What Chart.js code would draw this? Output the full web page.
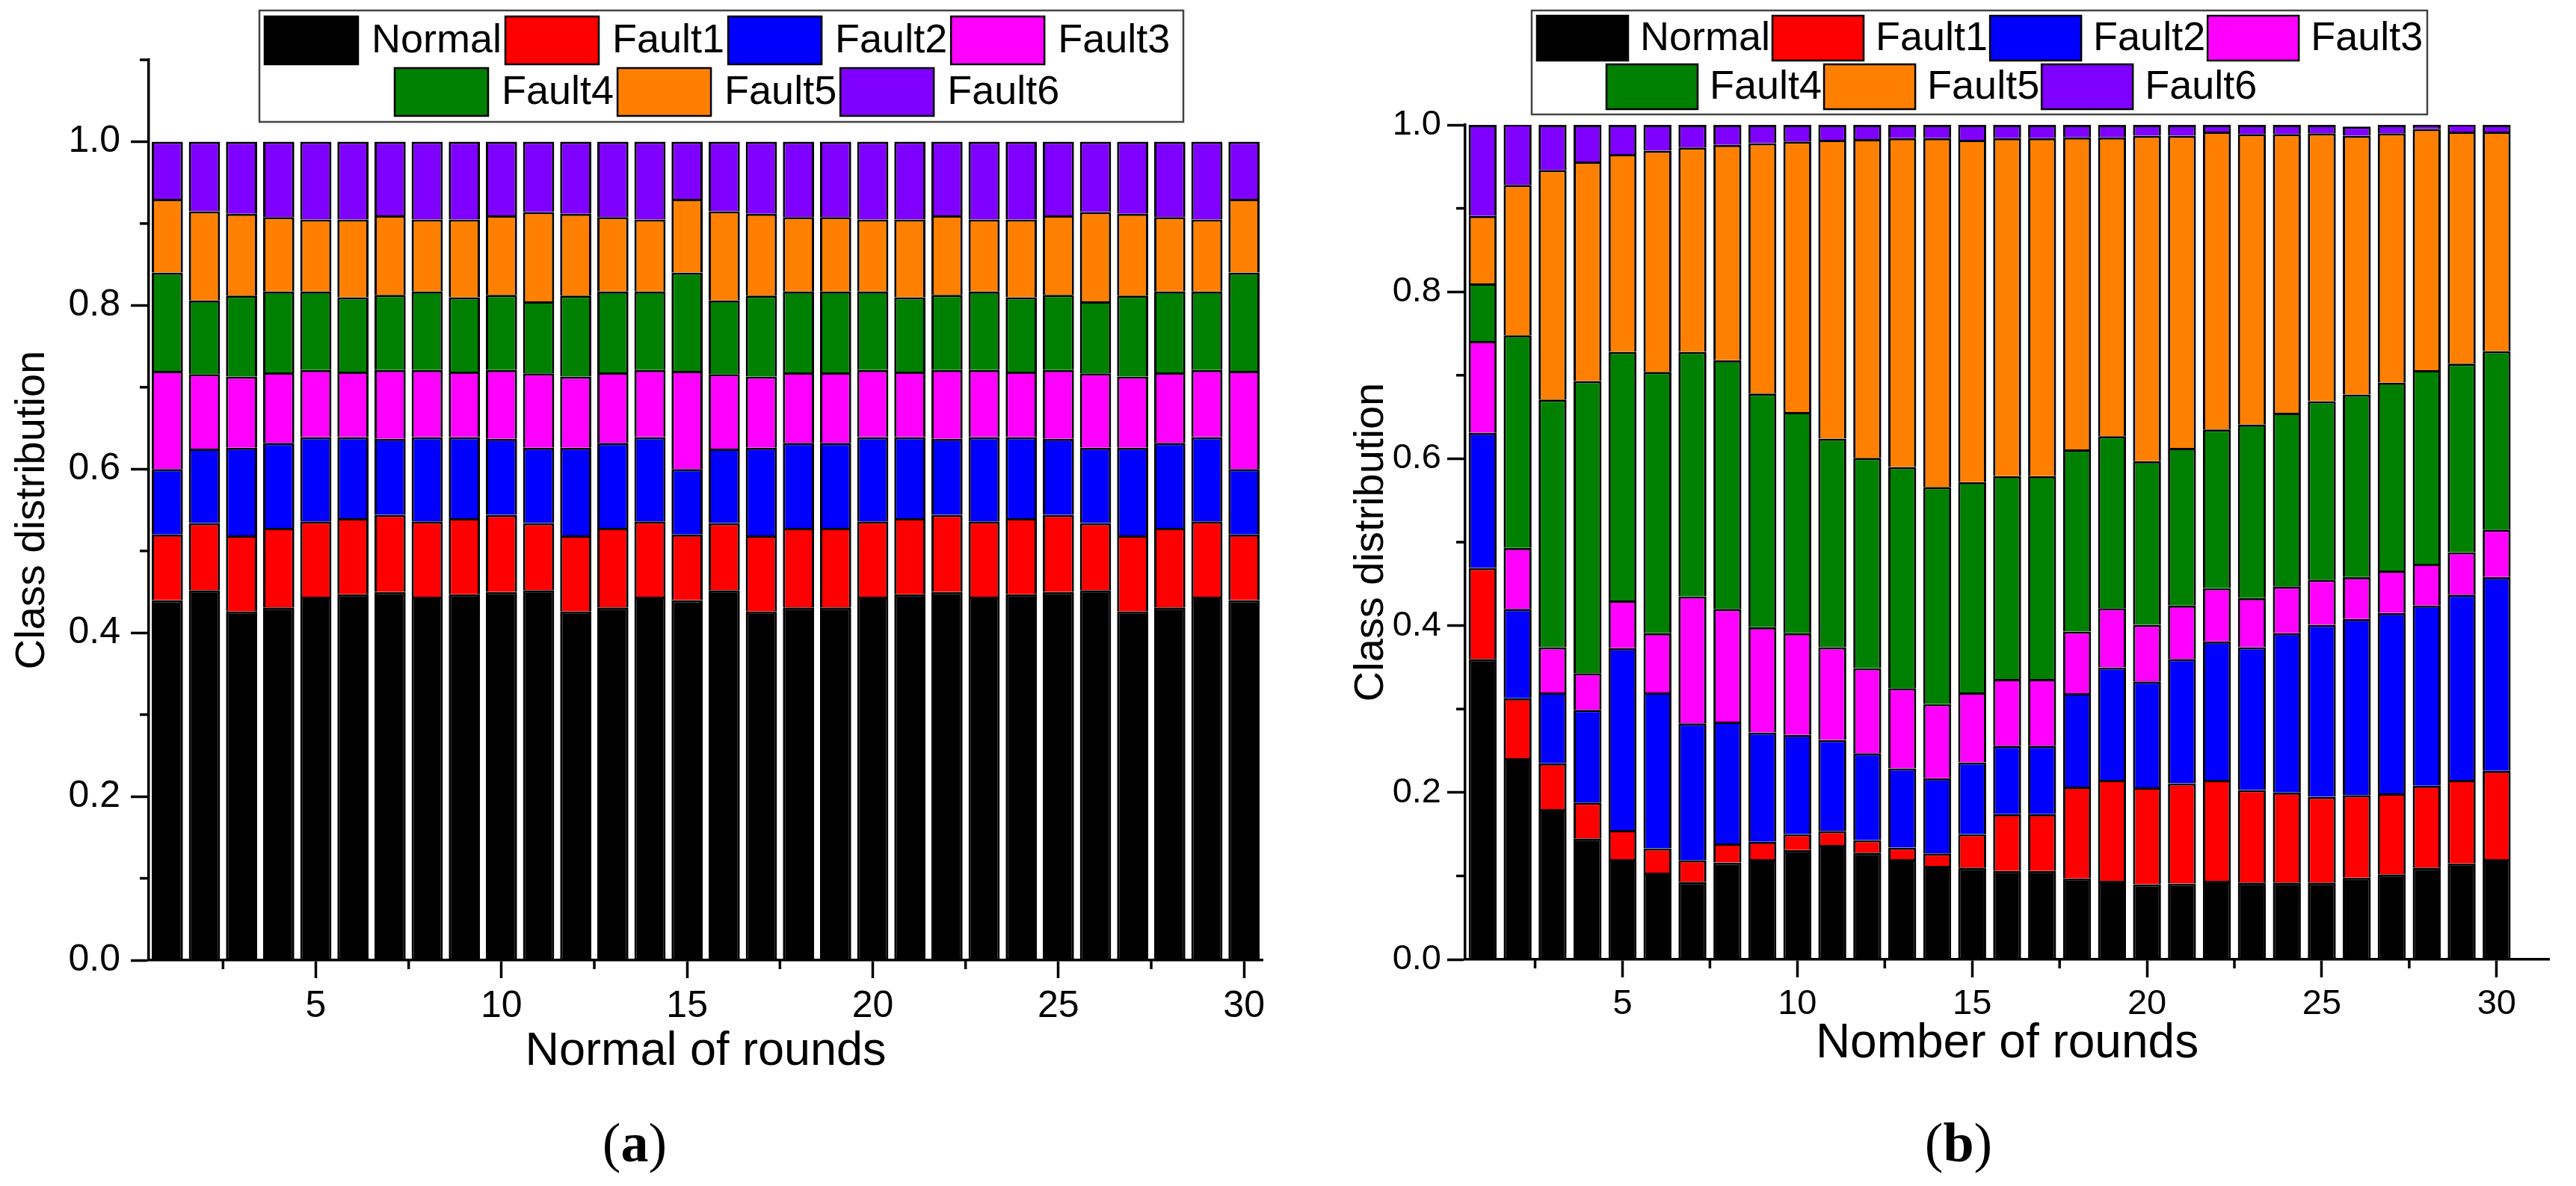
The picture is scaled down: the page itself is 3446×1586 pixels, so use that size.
<!DOCTYPE html>
<html>
<head>
<meta charset="utf-8">
<script src="https://cdn.jsdelivr.net/npm/chart.js@4.4.0/dist/chart.umd.min.js"></script>
<style>
html,body{margin:0;padding:0;background:#fff;}
body{width:3446px;height:1586px;position:relative;overflow:hidden;}
#wa{position:absolute;left:0;top:0;width:1740px;height:1460px;}
#wb{position:absolute;left:1770px;top:0;width:1676px;height:1460px;}
canvas{display:block;}
.cap{position:absolute;top:1491px;width:400px;text-align:center;font-family:'Liberation Serif','DejaVu Serif',serif;font-size:74px;line-height:74px;color:#000;}
</style>
</head>
<body>
<div id="wa"><canvas id="ca" width="1740" height="1460" style="width:1740px;height:1460px"></canvas></div>
<div id="wb"><canvas id="cb" width="1676" height="1460" style="width:1676px;height:1460px"></canvas></div>
<div class="cap" style="left:649px">(<b>a</b>)</div>
<div class="cap" style="left:2420px">(<b>b</b>)</div>
<script>
// ---------- data ----------
const rounds = [1,2,3,4,5,6,7,8,9,10,11,12,13,14,15,16,17,18,19,20,21,22,23,24,25,26,27,28,29,30];
const xMajorTicks = [5,10,15,20,25,30];
const xMinorTicks = [2.5,7.5,12.5,17.5,22.5,27.5];
const yMajorTicks = [0,0.2,0.4,0.6,0.8,1.0];
const yMinorTicksA = [0.1,0.3,0.5,0.7,0.9,1.1];
const yMinorTicksB = [0.1,0.3,0.5,0.7,0.9];
const classNames = ['Normal','Fault1','Fault2','Fault3','Fault4','Fault5','Fault6'];
const classColors = ['#000000','#ff0000','#0000ff','#ff00ff','#008000','#ff8000','#8000ff'];

// (a) Normal of rounds
const aNormal = [0.440,0.452,0.426,0.431,0.444,0.447,0.450,0.444,0.447,0.450,0.452,0.426,0.431,0.444,0.440,0.452,0.426,0.431,0.431,0.444,0.447,0.450,0.444,0.447,0.450,0.452,0.426,0.431,0.444,0.440];
const aFault1 = [0.080,0.082,0.093,0.097,0.092,0.093,0.094,0.092,0.093,0.094,0.082,0.093,0.097,0.092,0.080,0.082,0.093,0.097,0.097,0.092,0.093,0.094,0.092,0.093,0.094,0.082,0.093,0.097,0.092,0.080];
const aFault2 = [0.080,0.091,0.107,0.104,0.103,0.099,0.093,0.103,0.099,0.093,0.092,0.107,0.104,0.103,0.080,0.091,0.107,0.104,0.104,0.103,0.099,0.093,0.103,0.099,0.093,0.092,0.107,0.104,0.103,0.080];
const aFault3 = [0.120,0.091,0.087,0.086,0.082,0.080,0.084,0.082,0.080,0.084,0.091,0.087,0.086,0.082,0.120,0.091,0.087,0.086,0.086,0.082,0.080,0.084,0.082,0.080,0.084,0.091,0.087,0.086,0.082,0.120];
const aFault4 = [0.120,0.090,0.099,0.099,0.096,0.091,0.092,0.096,0.091,0.092,0.088,0.099,0.099,0.096,0.120,0.090,0.099,0.099,0.099,0.096,0.091,0.092,0.096,0.091,0.092,0.088,0.099,0.099,0.096,0.120];
const aFault5 = [0.090,0.109,0.100,0.091,0.088,0.095,0.097,0.088,0.095,0.097,0.109,0.100,0.091,0.088,0.090,0.109,0.100,0.091,0.091,0.088,0.095,0.097,0.088,0.095,0.097,0.109,0.100,0.091,0.088,0.090];
const aFault6 = [0.070,0.085,0.088,0.092,0.095,0.095,0.090,0.095,0.095,0.090,0.086,0.088,0.092,0.095,0.070,0.085,0.088,0.092,0.092,0.095,0.095,0.090,0.095,0.095,0.090,0.086,0.088,0.092,0.095,0.070];

// (b) Nomber of rounds
const bNormal = [0.360,0.241,0.180,0.145,0.120,0.104,0.093,0.116,0.120,0.131,0.137,0.128,0.120,0.112,0.110,0.106,0.106,0.097,0.094,0.090,0.091,0.094,0.092,0.092,0.092,0.098,0.102,0.110,0.115,0.120];
const bFault1 = [0.109,0.072,0.055,0.043,0.035,0.029,0.026,0.023,0.021,0.019,0.017,0.015,0.014,0.015,0.040,0.068,0.068,0.110,0.121,0.116,0.120,0.121,0.111,0.108,0.103,0.099,0.097,0.098,0.100,0.106];
const bFault2 = [0.162,0.107,0.085,0.111,0.218,0.187,0.164,0.146,0.131,0.119,0.109,0.104,0.095,0.090,0.086,0.082,0.082,0.112,0.135,0.127,0.149,0.166,0.171,0.191,0.206,0.211,0.216,0.216,0.222,0.232];
const bFault3 = [0.110,0.073,0.054,0.044,0.057,0.071,0.152,0.135,0.126,0.122,0.111,0.102,0.096,0.089,0.084,0.080,0.080,0.074,0.071,0.068,0.064,0.064,0.059,0.056,0.054,0.050,0.051,0.050,0.051,0.057];
const bFault4 = [0.069,0.255,0.297,0.350,0.298,0.313,0.293,0.298,0.280,0.265,0.250,0.252,0.265,0.260,0.252,0.243,0.243,0.218,0.206,0.196,0.189,0.190,0.208,0.208,0.214,0.219,0.225,0.232,0.226,0.214];
const bFault5 = [0.081,0.180,0.275,0.263,0.237,0.265,0.245,0.258,0.300,0.324,0.358,0.382,0.394,0.418,0.410,0.405,0.405,0.374,0.358,0.390,0.374,0.357,0.348,0.334,0.321,0.310,0.299,0.289,0.278,0.263];
const bFault6 = [0.109,0.073,0.054,0.044,0.035,0.031,0.027,0.024,0.022,0.020,0.018,0.017,0.016,0.016,0.018,0.016,0.016,0.015,0.015,0.013,0.013,0.008,0.011,0.011,0.010,0.011,0.010,0.005,0.009,0.008];

// ---------- helpers ----------
Chart.defaults.font.family = "'Liberation Sans', Arial, sans-serif";
Chart.defaults.color = '#000';

const minorTicks = {
  id: 'minorTicks',
  afterDraw(chart, args, o) {
    const ctx = chart.ctx;
    ctx.save();
    ctx.strokeStyle = '#000';
    ctx.lineWidth = o.width;
    ctx.lineCap = 'butt';
    const xs = chart.scales.x, ys = chart.scales.y;
    o.xValues.forEach(v => {
      const px = xs.getPixelForValue(v);
      ctx.beginPath();
      ctx.moveTo(px, xs.top);
      ctx.lineTo(px, xs.top + o.length);
      ctx.stroke();
    });
    o.yValues.forEach(v => {
      const py = ys.getPixelForValue(v);
      ctx.beginPath();
      ctx.moveTo(ys.right, py);
      ctx.lineTo(ys.right - o.length, py);
      ctx.stroke();
    });
    ctx.restore();
  }
};

const boxLegend = {
  id: 'boxLegend',
  afterDraw(chart, args, o) {
    const ctx = chart.ctx;
    ctx.save();
    ctx.lineWidth = o.frameWidth;
    ctx.strokeStyle = o.frameColor;
    ctx.strokeRect(o.box.x, o.box.y, o.box.w, o.box.h);
    ctx.font = o.fontSize + "px 'Liberation Sans', Arial, sans-serif";
    ctx.textBaseline = 'middle';
    ctx.textAlign = 'left';
    o.rows.forEach(row => {
      let x = row.x;
      row.items.forEach(i => {
        const ds = chart.data.datasets[i];
        ctx.fillStyle = ds.backgroundColor;
        ctx.fillRect(x, row.y, o.swatchW, o.swatchH);
        ctx.lineWidth = o.swatchBorder;
        ctx.strokeStyle = '#000';
        ctx.strokeRect(x, row.y, o.swatchW, o.swatchH);
        x += o.swatchW + o.gapText;
        ctx.fillStyle = '#000';
        ctx.fillText(ds.label, x, row.y + o.swatchH / 2 + 1);
        x += ctx.measureText(ds.label).width + o.gapItem;
      });
    });
    ctx.restore();
  }
};

function makeDatasets(series, barPct) {
  return series.map((vals, k) => ({
    label: classNames[k],
    data: vals.map((v, i) => ({x: rounds[i], y: v})),
    backgroundColor: classColors[k],
    borderColor: '#000',
    borderWidth: 3,
    barPercentage: barPct,
    categoryPercentage: 1
  }));
}

function makeChart(id, series, g) {
  return new Chart(document.getElementById(id), {
    type: 'bar',
    data: {datasets: makeDatasets(series, g.barPct)},
    plugins: [minorTicks, boxLegend],
    options: {
      responsive: false,
      animation: false,
      layout: {padding: g.padding},
      plugins: {
        legend: {display: false},
        tooltip: {enabled: false},
        minorTicks: {xValues: xMinorTicks, yValues: g.yMinor, length: 12, width: 3.5},
        boxLegend: g.legend
      },
      scales: {
        x: {
          type: 'linear', stacked: true, min: g.xMin, max: g.xMax, offset: false,
          afterBuildTicks: s => { s.ticks = xMajorTicks.map(v => ({value: v})); },
          afterFit: s => { s.height = g.xH; },
          ticks: {font: {size: g.tickFont}, color: '#000', padding: g.xTickPad, autoSkip: false, maxRotation: 0, callback: v => String(v)},
          grid: {drawOnChartArea: false, drawTicks: true, tickLength: 24, tickWidth: 3.5, tickColor: '#000', offset: false},
          border: {display: true, color: '#000', width: 3.5},
          title: {display: true, text: g.xTitle, color: '#000', font: {size: g.xTitleFont}, padding: {top: 0, bottom: g.xTitlePad}},
          z: 1
        },
        y: {
          type: 'linear', stacked: true, min: 0, max: g.yMax,
          afterBuildTicks: s => { s.ticks = yMajorTicks.map(v => ({value: v})); },
          afterFit: s => { s.width = g.yW; },
          ticks: {font: {size: g.tickFont}, color: '#000', padding: g.yTickPad, callback: v => Number(v).toFixed(1)},
          grid: {drawOnChartArea: false, drawTicks: true, tickLength: 24, tickWidth: 3.5, tickColor: '#000'},
          border: {display: true, color: '#000', width: 3.5},
          title: {display: true, text: 'Class distribution', color: '#000', font: {size: 56}, padding: {top: g.yTitlePad, bottom: 0}},
          z: 1
        }
      }
    }
  });
}

makeChart('ca', [aNormal, aFault1, aFault2, aFault3, aFault4, aFault5, aFault6], {
  barPct: 0.84, xMin: 0.5, xMax: 30.5, yMax: 1.1, yMinor: yMinorTicksA,
  padding: {left: 0, top: 80, right: 51, bottom: 0},
  xH: 176, yW: 199, tickFont: 50, xTickPad: 8, yTickPad: 14,
  xTitle: 'Normal of rounds', xTitleFont: 63, xTitlePad: 16, yTitlePad: 10,
  legend: {
    box: {x: 347, y: 14, w: 1236, h: 149}, frameWidth: 2.5, frameColor: '#444',
    swatchW: 125, swatchH: 64, swatchBorder: 2.5, gapText: 18, gapItem: 5, fontSize: 54,
    rows: [{items: [0, 1, 2, 3], x: 354, y: 22}, {items: [4, 5, 6], x: 528, y: 91}]
  }
});

makeChart('cb', [bNormal, bFault1, bFault2, bFault3, bFault4, bFault5, bFault6], {
  barPct: 0.80, xMin: 0.5, xMax: 31.5, yMax: 1.0, yMinor: yMinorTicksB,
  padding: {left: 0, top: 167, right: 36, bottom: 0},
  xH: 177, yW: 190, tickFont: 47, xTickPad: 8, yTickPad: 8,
  xTitle: 'Nomber of rounds', xTitleFont: 64, xTitlePad: 25, yTitlePad: 31,
  legend: {
    box: {x: 279, y: 14, w: 1198, h: 139}, frameWidth: 2.5, frameColor: '#444',
    swatchW: 122, swatchH: 60, swatchBorder: 2.5, gapText: 16, gapItem: 3, fontSize: 54,
    rows: [{items: [0, 1, 2, 3], x: 286, y: 21}, {items: [4, 5, 6], x: 379, y: 86}]
  }
});
</script>
</body>
</html>
